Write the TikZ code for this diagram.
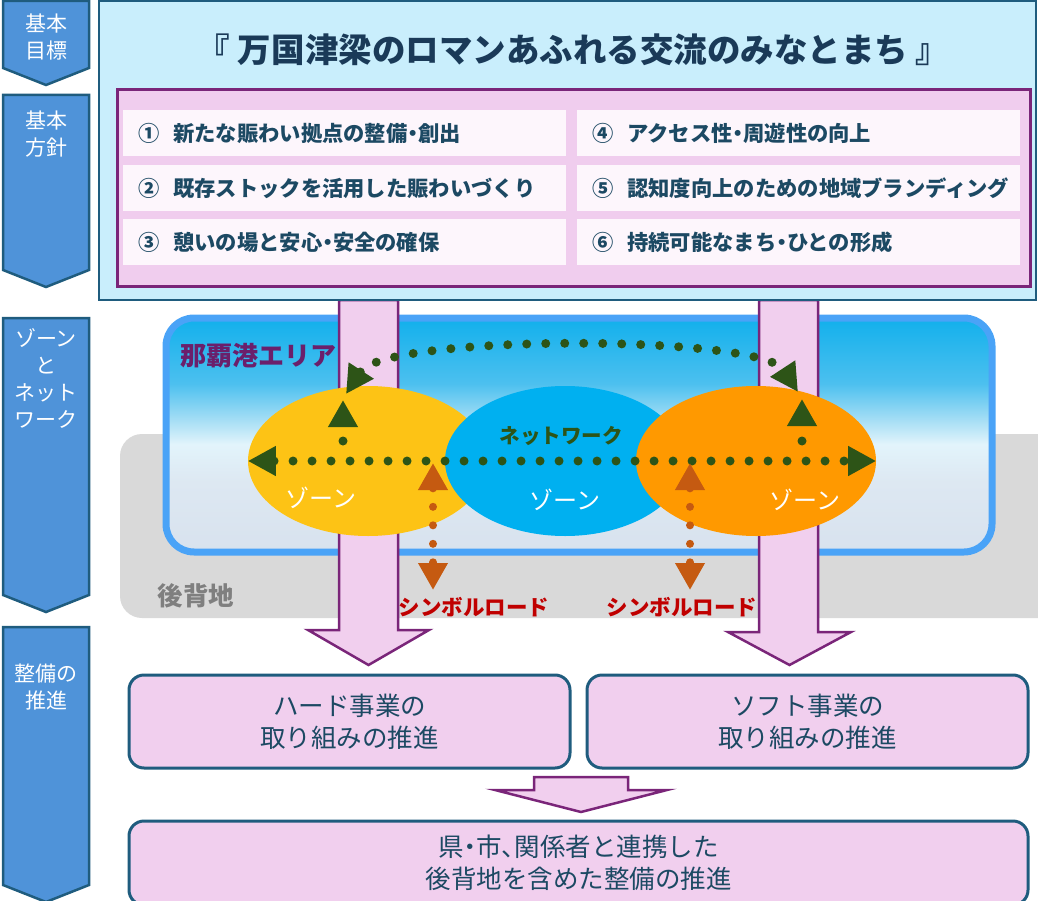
\documentclass[tikz,border=0pt]{standalone}
\usepackage{fontspec}
\setmainfont{Noto Sans CJK JP}
\newfontfamily\propfont[RawFeature=+palt]{Noto Sans CJK JP}
\usetikzlibrary{shapes.geometric, arrows.meta, positioning}

\definecolor{chevblue}{HTML}{4F93D9}
\definecolor{boxline}{HTML}{1F5C7E}
\definecolor{goalfill}{HTML}{C9EEFC}
\definecolor{policyfill}{HTML}{F0CDEE}
\definecolor{policyline}{HTML}{7A2579}
\definecolor{itemfill}{HTML}{FDF6FC}
\definecolor{textdark}{HTML}{1C4963}
\definecolor{titlenavy}{HTML}{1A3A58}
\definecolor{landgray}{HTML}{D9D9D9}
\definecolor{arealine}{HTML}{4AA3F7}
\definecolor{areatop}{HTML}{12B0EC}
\definecolor{areaupper}{HTML}{4CC0EF}
\definecolor{areahigh}{HTML}{A8DFF5}
\definecolor{areamid}{HTML}{E2F4FB}
\definecolor{arealow}{HTML}{DDE8F2}
\definecolor{areabot}{HTML}{D8E2EE}
\definecolor{zoneyellow}{HTML}{FDC315}
\definecolor{zoneblue}{HTML}{00B0F0}
\definecolor{zoneorange}{HTML}{FF9900}
\definecolor{netgreen}{HTML}{2D5417}
\definecolor{roadbrown}{HTML}{C55A11}
\definecolor{roadred}{HTML}{C00000}
\definecolor{harborpurple}{HTML}{6B1F6B}
\definecolor{landtext}{HTML}{7F7F7F}
\definecolor{arrowpink}{HTML}{F1CFEE}

\pgfdeclareverticalshading{harborshade}{100bp}{color(0bp)=(areabot); color(25bp)=(areabot); color(40bp)=(arealow); color(48bp)=(areamid); color(53bp)=(areahigh); color(61bp)=(areaupper); color(75bp)=(areatop); color(100bp)=(areatop)}

\tikzstyle{chevron} = [fill=chevblue, draw=boxline, line width=2.5pt]
\tikzstyle{chevtext} = [text=white, align=center, font=\fontsize{21pt}{27pt}\selectfont]
\tikzstyle{goalbox} = [rectangle, minimum width=937pt, minimum height=299pt, fill=goalfill, draw=boxline, line width=2.5pt]
\tikzstyle{policybox} = [rectangle, minimum width=913pt, minimum height=196pt, fill=policyfill, draw=policyline, line width=3pt]
\tikzstyle{item} = [rectangle, minimum width=443pt, minimum height=46pt, text width=413pt, inner xsep=15pt, align=left, fill=itemfill, text=textdark, font=\fontsize{21.3pt}{24pt}\selectfont\bfseries]
\tikzstyle{land} = [rectangle, rounded corners=22pt, minimum width=940pt, minimum height=184pt, fill=landgray]
\tikzstyle{area} = [rectangle, rounded corners=28pt, minimum width=826pt, minimum height=234pt, shading=harborshade, draw=arealine, line width=7pt]
\tikzstyle{zone} = [ellipse, minimum width=240pt, minimum height=150pt, inner sep=0pt]
\tikzstyle{zonetext} = [text=white, font=\fontsize{24pt}{28pt}\selectfont]
\tikzstyle{netarrow} = [draw=netgreen, line width=9pt, line cap=round, dash pattern=on 0pt off 19pt, {Triangle[length=28pt,width=28pt]}-{Triangle[length=28pt,width=28pt]}]
\tikzstyle{uparrow} = [draw=netgreen, line width=9pt, line cap=round, dash pattern=on 0pt off 19pt, -{Triangle[length=27pt,width=28pt]}]
\tikzstyle{roadarrow} = [draw=roadbrown, line width=8pt, line cap=round, dash pattern=on 0pt off 18.5pt, {Triangle[length=27pt,width=28pt]}-{Triangle[length=27pt,width=28pt]}]
\tikzstyle{roadtext} = [text=roadred, font=\fontsize{21.5pt}{24pt}\selectfont\bfseries]
\tikzstyle{bigarrow} = [fill=arrowpink, draw=policyline, line width=2.5pt]
\tikzstyle{stepbox} = [rectangle, rounded corners=15pt, minimum width=441pt, minimum height=93pt, fill=arrowpink, draw=boxline, line width=3pt, text=textdark, align=center, font=\fontsize{25.5pt}{32pt}\selectfont]

\begin{document}
\begin{tikzpicture}[x=1pt, y=-1pt, node distance=54.5pt]
\useasboundingbox (0,0) rectangle (1038,901);

% Left labels
\draw [chevron] (3,1) -- (89,1) -- (89,68) -- (46,85) -- (3,68) -- cycle;
\draw [chevron] (3,95) -- (89,95) -- (89,270) -- (46,287) -- (3,270) -- cycle;
\draw [chevron] (3,318) -- (89,318) -- (89,595) -- (46,612) -- (3,595) -- cycle;
\draw [chevron] (3,627) -- (89,627) -- (89,885) -- (46,902) -- (3,885) -- cycle;
\node (lvgoal) [chevtext] at (46,37) {基本\\目標};
\node (lvpolicy) [chevtext] at (46,134) {基本\\方針};
\node (lvzone) [chevtext] at (46,378) {ゾーン\\と\\ネット\\ワーク};
\node (lvstep) [chevtext] at (46,687) {整備の\\推進};

% Zone and network
\node (land) [land] at (590,526) {};
\node (harbor) [area] at (579,435) {};
\node (harborlab) [text=harborpurple, font=\fontsize{26pt}{28pt}\selectfont\bfseries] at (258,356) {那覇港エリア};
\node (landlab) [text=landtext, font=\fontsize{25.5pt}{28pt}\selectfont\bfseries] at (196,596) {後背地};

% Steps
\node (hard) [stepbox] at (349.5,721.5) {ハード事業の\\取り組みの推進};
\node (soft) [stepbox, right of=hard, xshift=403.5pt] {ソフト事業の\\取り組みの推進};
\node (final) [stepbox, minimum width=899pt, minimum height=84pt] at (578.5,863) {県{\propfont ・}市{\propfont 、}関係者と連携した\\後背地を含めた整備の推進};
\coordinate (hardin) at ([xshift=19pt, yshift=8.5pt]hard.north);
\coordinate (softin) at ([xshift=-18pt, yshift=8.5pt]soft.north);
\coordinate (mergetip) at ([xshift=2.5pt, yshift=7.5pt]final.north);
\draw [bigarrow] (mergetip) -- ++(-86,-22) -- ++(39,0) -- ++(0,-13) -- ++(94,0) -- ++(0,13) -- ++(39,0) -- cycle;
\draw [bigarrow] (hardin) -- ++(-60.5,-35) -- ++(31,0) -- ++(0,-330) -- ++(59,0) -- ++(0,330) -- ++(31,0) -- cycle;
\draw [bigarrow] (softin) -- ++(-61.5,-33) -- ++(31,0) -- ++(0,-332) -- ++(59,0) -- ++(0,332) -- ++(33,0) -- cycle;

\node (zoneY) [zone, fill=zoneyellow] at (368,461) {};
\node (zoneB) [zone, fill=zoneblue, right of=zoneY, xshift=142.5pt] {};
\node (zoneO) [zone, fill=zoneorange, right of=zoneB, xshift=136.5pt] {};
\node (zoneYlab) [zonetext] at (321,498) {ゾーン};
\node (zoneBlab) [zonetext] at (565,500) {ゾーン};
\node (zoneOlab) [zonetext] at (805,500) {ゾーン};
\node (netlab) [text=netgreen, font=\fontsize{20.5pt}{22pt}\selectfont\bfseries] at (561,436) {ネットワーク};

\coordinate (ydot) at (343,441);
\coordinate (ytop) at (343,400);
\coordinate (odot) at (802,441);
\coordinate (otop) at (802,399);
\coordinate (arcL) at (346,394);
\coordinate (arcR) at (798,392);
\draw [netarrow] (zoneY.west) -- (zoneO.east);
\draw [uparrow] (ydot) -- (ytop);
\draw [uparrow] (odot) -- (otop);
\draw [netarrow] (arcL) .. controls (385,334) and (760,334) .. (arcR);

\coordinate (roadL1) at (433,463);
\coordinate (roadL2) at (433,590);
\coordinate (roadR1) at (690,463);
\coordinate (roadR2) at (690,590);
\draw [roadarrow] (roadL1) -- (roadL2);
\draw [roadarrow] (roadR1) -- (roadR2);
\node (roadLlab) [roadtext] at (474,607) {シンボルロード};
\node (roadRlab) [roadtext] at (682,607) {シンボルロード};

% Goal and policies
\node (goal) [goalbox] at (567.5,150.5) {};
\node (title) [text=titlenavy, font=\fontsize{33.5pt}{38pt}\selectfont\bfseries] at (573,50) {『 万国津梁のロマンあふれる交流のみなとまち 』};
\node (policy) [policybox] at (573.5,188) {};
\node (pol1) [item] at (344.5,133.5) {①\hspace{14pt}新たな賑わい拠点の整備{\propfont ・}創出};
\node (pol2) [item, below of=pol1] {②\hspace{14pt}既存ストックを活用した賑わいづくり};
\node (pol3) [item, below of=pol2] {③\hspace{14pt}憩いの場と安心{\propfont ・}安全の確保};
\node (pol4) [item, right of=pol1, xshift=399.5pt] {④\hspace{14pt}アクセス性{\propfont ・}周遊性の向上};
\node (pol5) [item, below of=pol4] {⑤\hspace{14pt}認知度向上のための地域ブランディング};
\node (pol6) [item, below of=pol5] {⑥\hspace{14pt}持続可能なまち{\propfont ・}ひとの形成};

\end{tikzpicture}
\end{document}
